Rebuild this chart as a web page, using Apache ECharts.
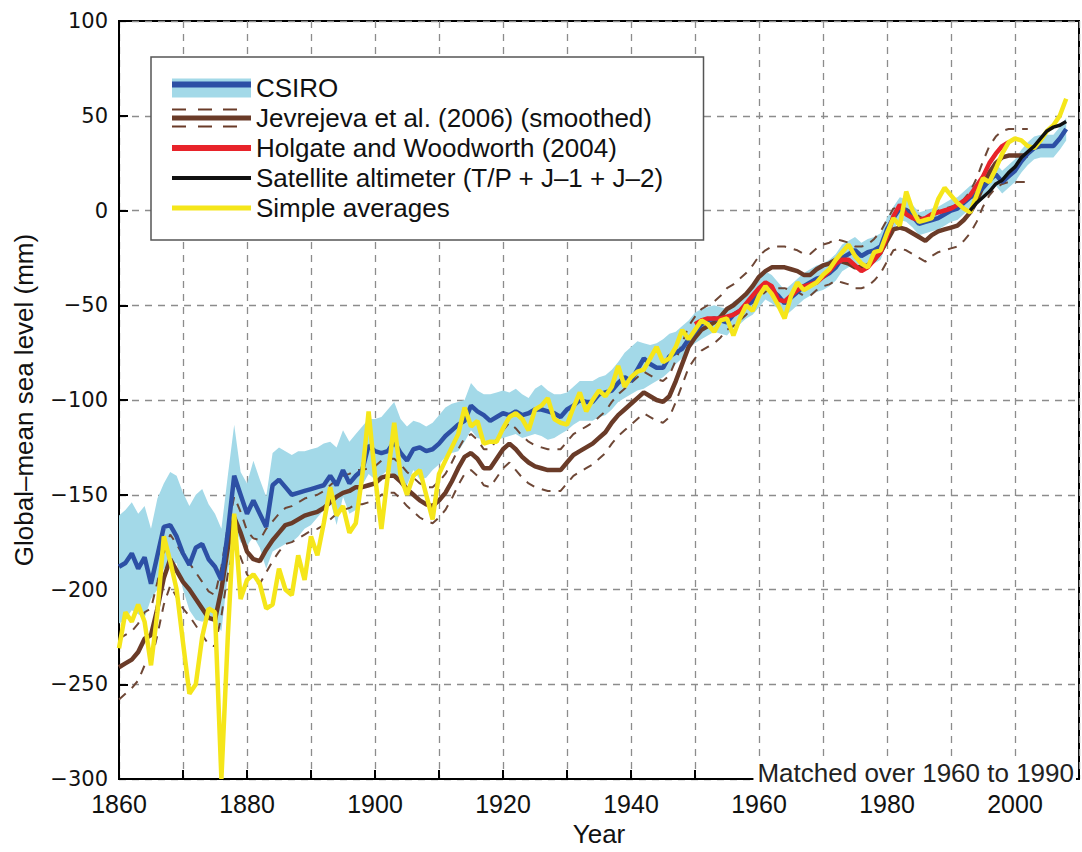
<!DOCTYPE html>
<html lang="en">

<head>
  <meta charset="UTF-8">
  <title>Global-mean sea level</title>
  <script src="https://cdn.jsdelivr.net/npm/echarts@6/dist/echarts.min.js"></script>
  <style>
    html, body { margin: 0; padding: 0; background: #fff; }
  </style>
</head>

<body>
  <div id="chart" style="width: 1082px; height: 852px;"></div>

  <script>
    // yearly values (mm)
    var csiroStart = 1860;
    var csiroMean = [
      -188, -186, -181, -189, -183, -197, -182, -167, -166, -172,
      -181, -187, -178, -176, -184, -188, -195, -170, -140, -150,
      -160, -153, -160, -167, -145, -142, -146, -150, -149, -148,
      -147, -146, -145, -140, -145, -137, -144, -140, -137, -124,
      -127, -128, -127, -122, -128, -132, -126, -125, -127, -126,
      -123, -119, -116, -113, -111, -103, -106, -108, -111, -109,
      -107, -108, -106, -108, -107, -105, -105, -106, -107, -109,
      -105, -103, -100, -101, -101, -97, -96, -95, -91, -88,
      -90, -84, -78, -81, -83, -83, -77, -75, -73, -68,
      -64, -60, -58, -57, -58, -59, -55, -53, -50, -48,
      -44, -40, -42, -45, -49, -46, -43, -40, -38, -36,
      -35, -33, -30, -25, -23, -21, -24, -22, -21, -19,
      -10, -4, 1, 0, -3, -7, -6, -5, -4, -2,
      0, 1, 4, 7, 9, 12, 16, 19, 15, 18,
      21, 26, 30, 33, 34, 34, 34, 38, 43
    ];
    var csiroHigh = [
      -161, -158, -154, -160, -156, -168, -152, -144, -138, -140,
      -149, -156, -150, -147, -155, -160, -168, -140, -113, -138,
      -144, -132, -142, -151, -128, -125, -127, -129, -127, -127,
      -126, -125, -123, -122, -125, -116, -122, -118, -114, -110,
      -110, -109, -105, -101, -110, -114, -111, -112, -114, -112,
      -108, -104, -102, -101, -100, -91, -95, -97, -97, -96,
      -95, -96, -94, -97, -99, -94, -92, -95, -97, -97,
      -96, -93, -90, -90, -90, -88, -87, -84, -80, -75,
      -72, -69, -70, -71, -70, -68, -65, -64, -61, -58,
      -54, -52, -51, -50, -51, -52, -48, -46, -43, -41,
      -37, -32, -34, -38, -42, -39, -36, -33, -31, -29,
      -28, -26, -23, -18, -16, -14, -17, -15, -14, -12,
      -4, 2, 7, 6, 3, -1, 0, 1, 2, 4,
      6, 7, 10, 13, 15, 18, 22, 25, 21, 24,
      27, 32, 36, 39, 40, 40, 40, 44, 49
    ];
    var csiroLow = [
      -218, -216, -211, -213, -215, -205, -200, -189, -187, -186,
      -200, -211, -216, -217, -215, -217, -222, -192, -166, -175,
      -177, -172, -178, -189, -180, -178, -176, -175, -172, -168,
      -166, -162, -158, -153, -166, -151, -160, -158, -145, -139,
      -142, -140, -137, -140, -142, -145, -137, -142, -141, -137,
      -134, -130, -128, -127, -122, -116, -120, -121, -123, -121,
      -120, -119, -118, -120, -119, -118, -119, -121, -120, -118,
      -116, -113, -111, -111, -111, -109, -108, -105, -101, -99,
      -97, -95, -94, -92, -90, -88, -85, -81, -78, -73,
      -70, -68, -66, -64, -65, -66, -62, -60, -57, -55,
      -51, -47, -49, -52, -56, -53, -50, -47, -45, -43,
      -42, -40, -37, -32, -30, -28, -31, -29, -28, -26,
      -17, -10, -5, -6, -9, -13, -12, -11, -10, -8,
      -6, -5, -2, 1, 3, 6, 10, 13, 9, 12,
      15, 20, 24, 27, 28, 28, 28, 32, 37
    ];

    var jevStart = 1860;
    var jevMean = [
      -241, -239, -237, -233, -226, -224, -210, -194, -184, -190,
      -196, -200, -205, -210, -215, -216, -200, -178, -162, -170,
      -180, -184, -185, -179, -174, -170, -166, -165, -163, -161,
      -160, -159, -157, -154, -151, -149, -148, -146, -146, -145,
      -144, -141, -140, -140, -143, -147, -150, -153, -155, -156,
      -153, -149, -143, -136, -130, -128, -131, -136, -136, -131,
      -126, -123, -126, -130, -133, -135, -136, -137, -137, -137,
      -133, -129, -127, -125, -123, -120, -117, -112, -108, -105,
      -102, -99, -96, -98, -100, -101, -98, -90, -81, -72,
      -67, -63, -61, -59, -56, -52, -50, -47, -44, -40,
      -35, -32, -30, -30, -30, -31, -32, -34, -34, -31,
      -29, -28, -26, -27, -28, -30, -30, -29, -26, -22,
      -16, -10, -9, -10, -12, -14, -16, -13, -11, -10,
      -9, -8, -5, -1, 5, 13, 20, 25, 28, 29,
      29, 29, 29
    ];
    var jevHigh = [
      -226, -224, -222, -218, -212, -210, -196, -181, -171, -176,
      -182, -186, -191, -196, -201, -203, -188, -167, -151, -159,
      -169, -173, -174, -168, -164, -160, -157, -156, -154, -152,
      -151, -150, -148, -145, -142, -140, -139, -137, -137, -136,
      -135, -132, -131, -131, -134, -138, -141, -144, -146, -146,
      -143, -139, -133, -126, -120, -118, -121, -126, -126, -121,
      -116, -112, -115, -119, -122, -124, -125, -126, -126, -126,
      -122, -118, -116, -114, -112, -109, -106, -101, -97, -94,
      -91, -88, -85, -87, -89, -90, -87, -79, -70, -61,
      -56, -52, -50, -48, -45, -41, -39, -36, -33, -29,
      -24, -21, -19, -19, -19, -20, -21, -23, -23, -20,
      -18, -17, -15, -16, -17, -19, -19, -18, -15, -11,
      -5, 1, 2, 1, -1, -3, -5, -2, 0, 1,
      2, 3, 6, 10, 17, 26, 34, 39, 42, 43,
      43, 43, 43
    ];
    var jevLow = [
      -258, -255, -252, -248, -240, -238, -224, -208, -198, -204,
      -210, -214, -219, -224, -229, -230, -214, -192, -176, -183,
      -192, -196, -197, -191, -185, -180, -176, -175, -173, -171,
      -169, -168, -166, -163, -160, -158, -157, -155, -155, -154,
      -153, -150, -149, -149, -152, -156, -159, -162, -164, -165,
      -162, -158, -152, -145, -139, -137, -140, -145, -146, -141,
      -136, -133, -137, -141, -144, -146, -147, -148, -148, -148,
      -144, -140, -138, -136, -134, -131, -128, -123, -119, -116,
      -113, -110, -107, -109, -111, -112, -109, -101, -92, -83,
      -78, -74, -72, -70, -67, -63, -61, -58, -55, -51,
      -46, -43, -41, -41, -41, -42, -43, -45, -45, -42,
      -40, -39, -37, -38, -39, -41, -41, -40, -37, -33,
      -27, -21, -20, -21, -23, -25, -27, -24, -22, -21,
      -20, -19, -16, -12, -6, 2, 8, 12, 14, 15,
      15, 15, 15
    ];

    var hwStart = 1950;
    var hwMean = [
      -60, -58, -57, -57, -57, -56, -55, -53, -49, -45,
      -41, -38, -40, -47, -48, -45, -42, -40, -39, -38,
      -35, -32, -28, -26, -26, -29, -32, -30, -26, -22,
      -14, -3, 3, -2, -4, -5, -4, -2, -1, 0,
      1, 3, 5, 8, 13, 18, 25, 30, 34, 36
    ];

    var satStart = 1993;
    var satMean = [0, 4, 7, 10, 14, 16, 20, 23, 28, 31, 34, 38, 42, 44, 45, 47];

    var avgStart = 1860;
    var simpleAvg = [
      -231, -212, -217, -208, -217, -240, -212, -172, -185, -200,
      -228, -255, -250, -225, -210, -212, -300, -225, -160, -205,
      -195, -192, -197, -210, -208, -189, -200, -203, -182, -195,
      -172, -182, -165, -146, -161, -156, -170, -165, -140, -106,
      -140, -168, -140, -112, -140, -150, -140, -137, -150, -163,
      -139, -132, -125, -118, -104, -114, -111, -123, -122, -122,
      -115, -109, -107, -110, -116, -105, -103, -99, -110, -112,
      -113, -104, -96, -106, -100, -95, -98, -93, -82, -93,
      -88, -85, -84, -78, -72, -80, -78, -72, -63, -68,
      -63, -58, -60, -64, -58, -57, -66, -57, -50, -53,
      -45, -40, -44, -50, -57, -45, -38, -42, -40, -38,
      -34, -31, -26, -22, -18, -24, -28, -30, -22, -21,
      -12, -4, -8, 10, 0, -6, -5, -4, 6, 12,
      8, 4, 1, -1, 8, 17, 15, 22, 30, 36,
      38, 37, 34, 33, 37, 42, 45, 50, 59
    ];

    var names = [
      'CSIRO',
      'Jevrejeva et al. (2006) (smoothed)',
      'Holgate and Woodworth (2004)',
      'Satellite altimeter (T/P + J–1 + J–2)',
      'Simple averages'
    ];

    // turn a start year and values into [year, value] pairs
    function pairs(start, vals) {
      return vals.map(function (v, i) { return [start + i, v]; });
    }

    var sans = 'Liberation Sans, Arial, sans-serif';
    var gridDash = { type: [7, 6], color: '#8c8c8c', width: 1.3 };
    var bandColor = '#a3d9e8';

    function plainLine(name, data, color, width, extra) {
      var s = {
        name: name,
        type: 'line',
        data: data,
        showSymbol: false,
        symbol: 'none',
        lineStyle: { color: color, width: width },
        itemStyle: { color: color },
        silent: true
      };
      for (var k in extra) s[k] = extra[k];
      return s;
    }

    // shared legend placement, two layers so the CSIRO key can be band + line
    var legendBox = {
      orient: 'vertical',
      left: 151, top: 57,
      padding: [18, 40, 19, 21],
      itemGap: 4,
      itemWidth: 79, itemHeight: 19,
      selectedMode: false,
      textStyle: { fontFamily: sans, fontSize: 26, color: '#111' }
    };
    function legendLayer(extra) {
      var l = {};
      for (var k in legendBox) l[k] = legendBox[k];
      for (var j in extra) l[j] = extra[j];
      return l;
    }

    var myChart = echarts.init(document.getElementById('chart'), null, { renderer: 'svg' });

    myChart.setOption({
      animation: false,
      backgroundColor: '#fff',
      grid: {
        left: 119, right: -12, top: 21, bottom: 63,
        show: true, borderColor: '#000', borderWidth: 2
      },
      title: {
        text: 'Matched over 1960 to 1990',
        right: 6, top: 759, padding: [0, 2, 0, 4],
        backgroundColor: '#fff',
        textStyle: { fontFamily: sans, fontSize: 26, lineHeight: 27, fontWeight: 'normal', color: '#222' }
      },
      legend: [
        legendLayer({
          z: 10,
          borderColor: '#555', borderWidth: 1.5,
          backgroundColor: '#fff',
          data: [
            { name: names[0], icon: 'path://M0 0h79v19h-79z', itemStyle: { color: bandColor, borderWidth: 0 } },
            { name: names[1],
              icon: 'path://M0 0h14v2h-14z M26 0h14v2h-14z M51 0h14v2h-14z M0 7h79v5h-79z M0 17h14v2h-14z M26 17h14v2h-14z M51 17h14v2h-14z',
              itemStyle: { color: '#6a3b28', borderWidth: 0 } },
            { name: names[2], icon: 'path://M0 0h79v6h-79z', itemStyle: { color: '#e8232a', borderWidth: 0 } },
            { name: names[3], icon: 'path://M0 0h79v4h-79z', itemStyle: { color: '#111', borderWidth: 0 } },
            { name: names[4], icon: 'path://M0 0h79v5h-79z', itemStyle: { color: '#f5e61a', borderWidth: 0 } }
          ]
        }),
        legendLayer({
          z: 11,
          formatter: function () { return ''; },
          data: [
            { name: names[0], icon: 'path://M0 0h79v6h-79z', itemStyle: { color: '#2d50a5', borderWidth: 0 } }
          ]
        })
      ],
      xAxis: {
        type: 'value', min: 1860, max: 2010, interval: 10,
        name: 'Year', nameLocation: 'middle', nameGap: 42,
        nameTextStyle: { fontFamily: sans, fontSize: 26, color: '#111' },
        axisLine: { onZero: false, lineStyle: { color: '#000', width: 2 } },
        axisTick: { inside: true, length: 9, lineStyle: { color: '#000', width: 2 } },
        axisLabel: {
          margin: 12, fontFamily: sans, fontSize: 25, color: '#111',
          formatter: function (v) { return v % 20 === 0 ? String(v) : ''; }
        },
        splitLine: { show: true, lineStyle: gridDash }
      },
      yAxis: {
        type: 'value', min: -300, max: 100, interval: 50,
        name: 'Global–mean sea level (mm)', nameLocation: 'middle', nameGap: 82, nameRotate: 90,
        nameTextStyle: { fontFamily: sans, fontSize: 26, color: '#111' },
        axisLine: { show: true, onZero: false, lineStyle: { color: '#000', width: 2 } },
        axisTick: { show: true, inside: true, length: 9, lineStyle: { color: '#000', width: 2 } },
        axisLabel: {
          margin: 11, fontFamily: 'DejaVu Sans, sans-serif', fontSize: 21, color: '#111',
          formatter: function (v) { return String(v).replace('-', '−'); }
        },
        splitLine: { show: true, lineStyle: gridDash }
      },
      series: [
        // CSIRO uncertainty band as one polygon through the axis scales
        {
          name: 'csiro-band',
          type: 'custom',
          silent: true,
          data: csiroHigh.map(function (v, i) { return [csiroStart + i, v, csiroLow[i]]; }),
          encode: { x: 0, y: [1, 2] },
          renderItem: function (params, api) {
            if (params.dataIndex !== 0) return null;
            var pts = [];
            csiroHigh.forEach(function (v, i) { pts.push(api.coord([csiroStart + i, v])); });
            for (var i = csiroLow.length - 1; i >= 0; i--) {
              pts.push(api.coord([csiroStart + i, csiroLow[i]]));
            }
            return { type: 'polygon', shape: { points: pts }, style: { fill: bandColor } };
          }
        },
        plainLine('jev-high', pairs(jevStart, jevHigh), '#6e4736', 2,
          { lineStyle: { color: '#6e4736', width: 2, type: [9, 8] } }),
        plainLine('jev-low', pairs(jevStart, jevLow), '#6e4736', 2,
          { lineStyle: { color: '#6e4736', width: 2, type: [9, 8] } }),
        plainLine(names[1], pairs(jevStart, jevMean), '#6a3b28', 4.5),
        plainLine(names[0], pairs(csiroStart, csiroMean), '#2d50a5', 4.5),
        plainLine(names[2], pairs(hwStart, hwMean), '#e8232a', 4.5),
        plainLine(names[4], pairs(avgStart, simpleAvg), '#f5e61a', 4.5),
        plainLine(names[3], pairs(satStart, satMean), '#111', 3.5)
      ]
    });
  </script>
</body>

</html>
